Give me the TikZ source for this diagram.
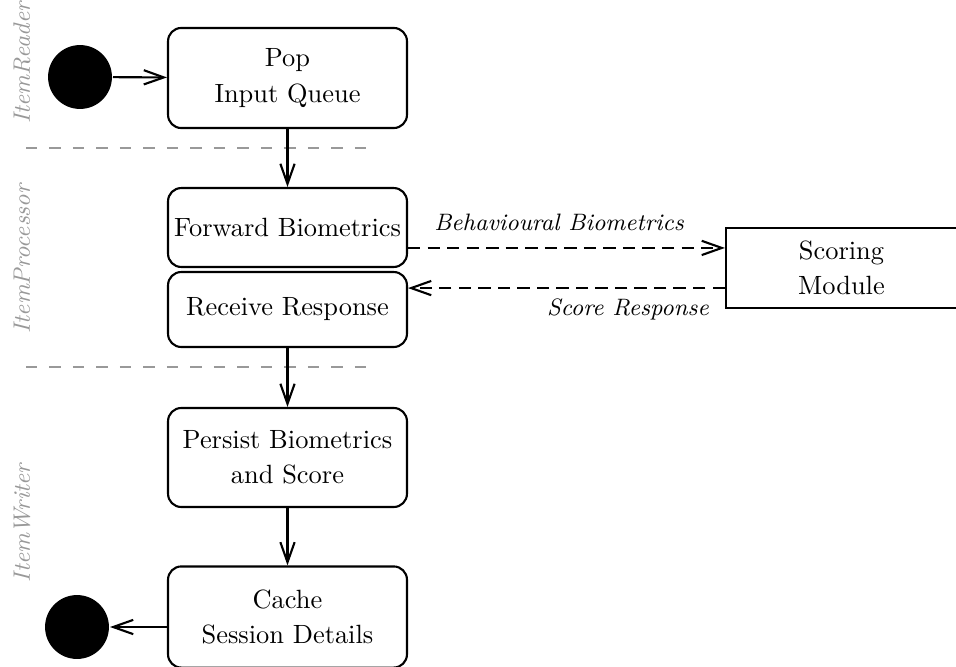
\documentclass[tikz,border=0pt]{standalone}
\usetikzlibrary{arrows.meta}
\definecolor{lanegray}{gray}{0.6}
\begin{document}
\begin{tikzpicture}[
  x=0.3788pt, y=-0.3788pt,
  >={Straight Barb[length=7.6pt,width=5.4pt]},
  every path/.style={line width=0.8pt},
  act/.style={draw, rounded corners=5pt, minimum width=90.5pt, inner sep=0pt,
    align=center, font=\fontsize{10}{13.3}\selectfont},
  module/.style={draw, minimum width=87.5pt, minimum height=30.3pt, inner sep=0pt,
    align=center, font=\fontsize{10}{13.3}\selectfont},
  terminal/.style={circle, fill=black, minimum size=24.2pt, inner sep=0pt},
  lane/.style={rotate=90, text=lanegray, font=\small\itshape},
  lanesep/.style={draw=lanegray, line width=1pt, dash pattern=on 4.2pt off 4.7pt},
  msg/.style={->, dash pattern=on 4.7pt off 2.7pt},
  msglabel/.style={font=\small\itshape, anchor=base}
]
\useasboundingbox (0,0) rectangle (956,666);

% swimlane titles and separators
\node[lane] (laneR) at (22,63) {ItemReader};
\node[lane] (laneP) at (22,259) {ItemProcessor};
\node[lane] (laneW) at (22,523) {ItemWriter};
\coordinate (sepAl) at (26,148);  \coordinate (sepAr) at (373,148);
\coordinate (sepBl) at (26,367);  \coordinate (sepBr) at (373,367);
\draw[lanesep] (sepAl) -- (sepAr);
\draw[lanesep] (sepBl) -- (sepBr);

% activities
\node[terminal] (start) at (80,77) {};
\node[act, minimum height=37.9pt] (pop) at (287.5,78) {Pop\\Input Queue};
\node[act, minimum height=29.9pt] (fwd) at (287.5,227.5) {Forward Biometrics};
\node[act, minimum height=28.4pt] (rcv) at (287.5,309.5) {Receive Response};
\node[act, minimum height=37.5pt] (persist) at (287.5,457.5) {Persist Biometrics\\and Score};
\node[act, minimum height=38.3pt] (cache) at (287.5,617) {Cache\\Session Details};
\node[terminal] (stop) at (77,627) {};

% external scoring service
\node[module] (score) at (841.5,268) {Scoring\\Module};
\coordinate (scoreIn) at ([yshift=7.6pt]score.west);
\coordinate (scoreOut) at ([yshift=-7.6pt]score.west);

% control flow
\draw[->] (start) -- (pop);
\draw[->] (pop) -- (fwd);
\draw[->] (rcv) -- (persist);
\draw[->] (persist) -- (cache);
\draw[->] (cache.west |- stop) -- (stop);

% messages to and from the scoring module
\draw[msg] (fwd.east |- scoreIn) -- (scoreIn);
\draw[msg] (scoreOut) -- (rcv.east |- scoreOut);
\node[msglabel] (lblReq) at (559,230) {Behavioural Biometrics};
\node[msglabel] (lblResp) at (628,315) {Score Response};
\end{tikzpicture}
\end{document}
